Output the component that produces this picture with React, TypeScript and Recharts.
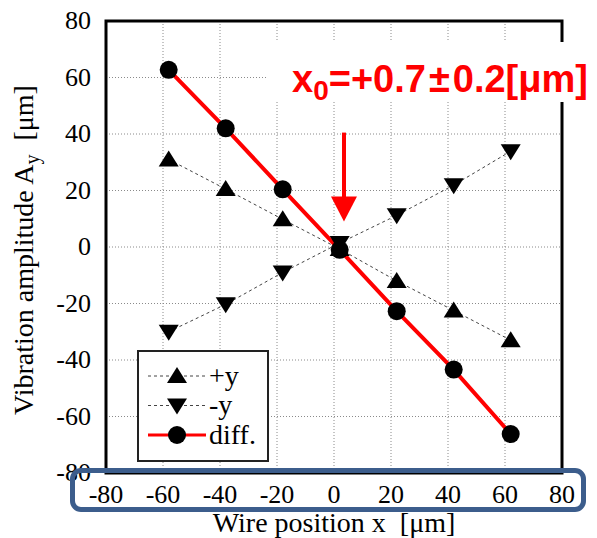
import React from 'react';
import { ComposedChart, Line, XAxis, YAxis, CartesianGrid, Legend, ReferenceLine, ReferenceDot, ReferenceArea } from 'recharts';

// wire position [um]
const positions = [-58, -38, -18, 2, 22, 42, 62];
// vibration amplitude [um]
const plusY = [31, 20.5, 9.8, -0.7, -12, -22.5, -33];
const minusY = [-30, -20.3, -9, 1.4, 11.2, 21.9, 33.9];
const diffY = [62.7, 42, 20.4, -1, -22.7, -43.4, -66.2];
const axisTicks = [-80, -60, -40, -20, 0, 20, 40, 60, 80];

const data = positions.map((x, i) => ({ x, plus: plusY[i], minus: minusY[i], diff: diffY[i] }));

const serifText: React.CSSProperties = { fontFamily: 'Liberation Serif', color: '#000', whiteSpace: 'nowrap' };

const UpTri = (props: any) => {
  const { cx, cy } = props;
  if (cx == null || cy == null) return null;
  return <path d={`M${cx},${cy - 9} L${cx + 10},${cy + 7} L${cx - 10},${cy + 7} Z`} fill="#000" />;
};

const DownTri = (props: any) => {
  const { cx, cy } = props;
  if (cx == null || cy == null) return null;
  return <path d={`M${cx},${cy + 9} L${cx + 10},${cy - 7} L${cx - 10},${cy - 7} Z`} fill="#000" />;
};

const Dot = (props: any) => {
  const { cx, cy } = props;
  if (cx == null || cy == null) return null;
  return <circle cx={cx} cy={cy} r={9} fill="#000" />;
};

const ArrowHead = (props: any) => {
  const { cx, cy } = props;
  return <path d={`M${cx},${cy} L${cx - 13},${cy - 25} L${cx + 13},${cy - 25} Z`} fill="#ff0000" />;
};

// tick labels as html so the serif face is used
const XTick = (props: any) => {
  const { x, y, payload } = props;
  return (
    <foreignObject x={x - 40} y={y + 7} width={80} height={32}>
      <div style={{ ...serifText, fontSize: 26, lineHeight: '30px', textAlign: 'center' }}>{payload.value}</div>
    </foreignObject>
  );
};

const YTick = (props: any) => {
  const { x, y, payload } = props;
  return (
    <foreignObject x={x - 80} y={y - 15} width={80} height={32}>
      <div style={{ ...serifText, fontSize: 26, lineHeight: '30px', textAlign: 'right' }}>{payload.value}</div>
    </foreignObject>
  );
};

const legendRows = [
  { label: '+y', kind: 'up' },
  { label: '-y', kind: 'down' },
  { label: 'diff.', kind: 'circle' },
];

const LegendBox = () => (
  <div
    style={{
      width: 132,
      height: 112,
      boxSizing: 'border-box',
      border: '2.5px solid #222',
      background: '#fff',
      position: 'relative',
    }}
  >
    <svg width={127} height={107} style={{ position: 'absolute', left: 0, top: 0 }}>
      {legendRows.map((r, i) => {
        const y = 24 + i * 29.5;
        return (
          <g key={r.label}>
            {r.kind === 'circle' ? (
              <line x1={9} x2={67} y1={y} y2={y} stroke="#ff0000" strokeWidth={3} />
            ) : (
              <line x1={9} x2={67} y1={y} y2={y} stroke="#444" strokeWidth={1} strokeDasharray="3 3" />
            )}
            {r.kind === 'up' && <UpTri cx={38} cy={y} />}
            {r.kind === 'down' && <DownTri cx={38} cy={y} />}
            {r.kind === 'circle' && <Dot cx={38} cy={y} />}
          </g>
        );
      })}
    </svg>
    {legendRows.map((r, i) => (
      <div
        key={r.label}
        style={{ ...serifText, position: 'absolute', left: 70, top: 8.6 + i * 29.5, fontSize: 28, lineHeight: '30px' }}
      >
        {r.label}
      </div>
    ))}
  </div>
);

export default function App() {
  return (
    <div style={{ position: 'absolute', left: 0, top: 0, width: 597, height: 538, background: '#fff', overflow: 'hidden' }}>
      <ComposedChart width={597} height={538} data={data} margin={{ top: 21, right: 35, left: 0, bottom: 0 }}>
        <CartesianGrid stroke="#8a8a8a" strokeDasharray="1 2" />
        <XAxis
          dataKey="x"
          type="number"
          domain={[-80, 80]}
          ticks={axisTicks}
          height={65}
          tickLine={false}
          axisLine={false}
          tickSize={0}
          tickMargin={0}
          tick={<XTick />}
        />
        <YAxis
          type="number"
          domain={[-80, 80]}
          ticks={axisTicks}
          width={106}
          tickLine={false}
          axisLine={false}
          tickSize={0}
          tickMargin={15}
          tick={<YTick />}
        />
        <ReferenceArea x1={-80} x2={80} y1={-80} y2={80} fill="none" stroke="#000" strokeWidth={3} ifOverflow="visible" />
        <Line dataKey="plus" stroke="#444" strokeWidth={1} strokeDasharray="3 3" dot={<UpTri />} isAnimationActive={false} />
        <Line dataKey="minus" stroke="#444" strokeWidth={1} strokeDasharray="3 3" dot={<DownTri />} isAnimationActive={false} />
        <Line dataKey="diff" stroke="#ff0000" strokeWidth={4} dot={<Dot />} isAnimationActive={false} />
        <ReferenceLine segment={[{ x: 3.5, y: 40.5 }, { x: 3.5, y: 17 }]} stroke="#ff0000" strokeWidth={4} />
        <ReferenceDot x={3.5} y={9} shape={<ArrowHead />} />
        <Legend
          layout="vertical"
          align="center"
          verticalAlign="middle"
          content={<LegendBox />}
          wrapperStyle={{ left: 137, top: 350, width: 132, height: 112 }}
        />
      </ComposedChart>
      {/* axis titles */}
      <div style={{ ...serifText, position: 'absolute', left: 0, width: 668, top: 507, fontSize: 28, lineHeight: '32px', textAlign: 'center' }}>
        Wire position x{'\u00a0\u00a0'}[μm]
      </div>
      <div
        style={{
          ...serifText,
          position: 'absolute',
          left: 23.6 - 200,
          top: 250 - 16,
          width: 400,
          height: 32,
          fontSize: 28,
          lineHeight: '32px',
          textAlign: 'center',
          transform: 'rotate(-90deg)',
        }}
      >
        Vibration amplitude A<span style={{ fontSize: 20, verticalAlign: -6 }}>y</span>
        {'\u00a0\u00a0'}[μm]
      </div>
      <svg width={329} height={70} style={{ position: 'absolute', left: 268, top: 42 }}>
        <rect x={0} y={0} width={329} height={60} fill="#fff" />
        <text x={24} y={50} fill="#ff0000" fontFamily="Liberation Sans" fontWeight="bold" fontSize={38}>
          x<tspan fontSize={28} dy={8}>0</tspan>
          <tspan dy={-8}>=+0.7</tspan>
          <tspan dx={3}>±</tspan>
          <tspan dx={3}>0.2[μm]</tspan>
        </text>
      </svg>
      <div
        style={{
          position: 'absolute',
          left: 70,
          top: 468,
          width: 516,
          height: 44,
          boxSizing: 'border-box',
          border: '5px solid #3c5d8c',
          borderRadius: 11,
        }}
      />
    </div>
  );
}
